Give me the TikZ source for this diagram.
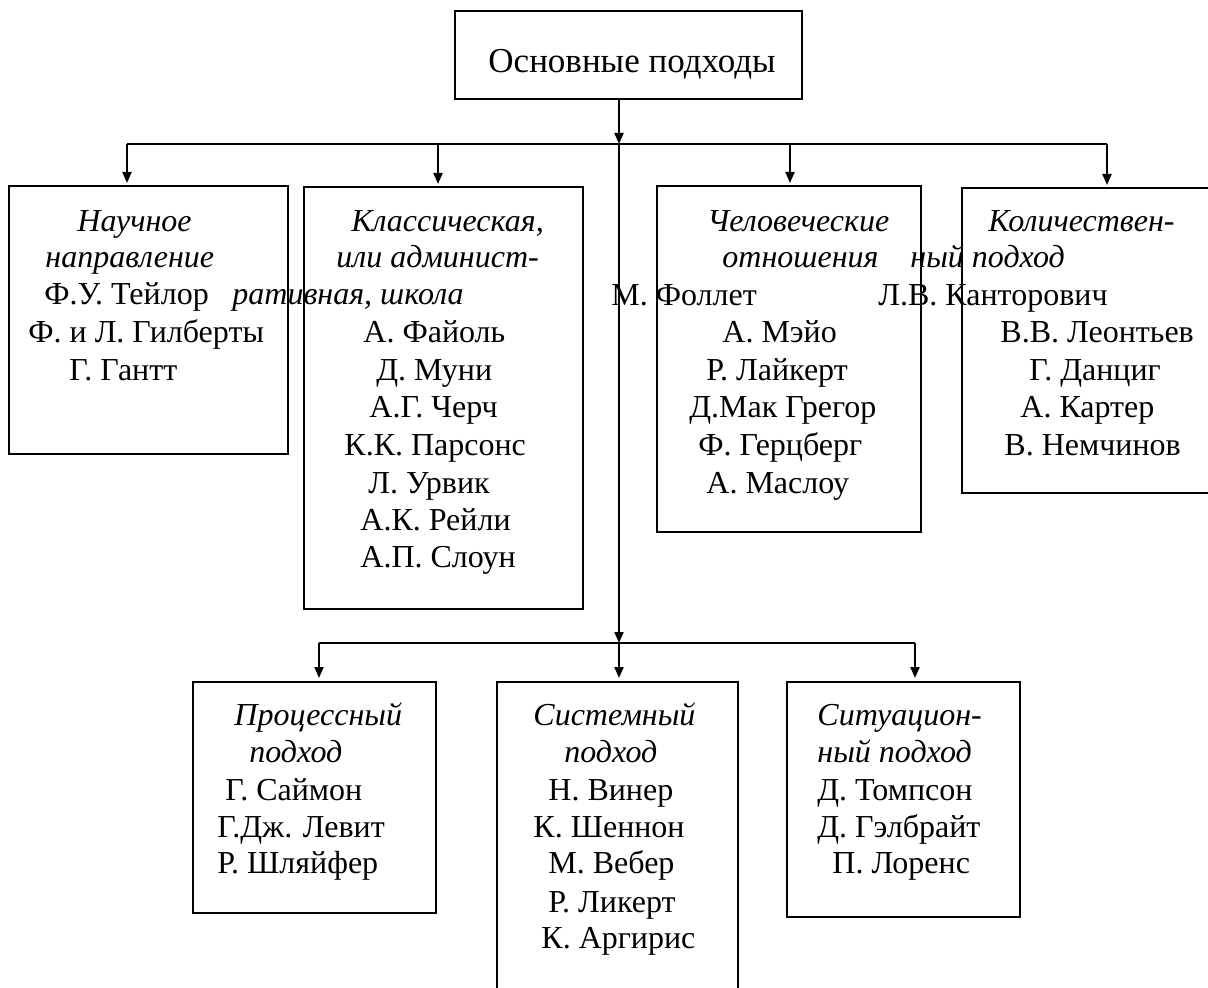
\documentclass[tikz,border=0pt]{standalone}
\usepackage{fontspec}
\setmainfont{Liberation Serif}
\usetikzlibrary{arrows.meta}
\tikzset{
  box/.style={draw, line width=1.3pt, rectangle, inner sep=0pt, outer sep=0pt},
  conn/.style={line width=1pt},
  arr/.style={line width=1pt, -{Triangle[length=5.5pt,width=4.5pt]}},
  txt/.style={anchor=base west, inner sep=0pt, font=\fontsize{16pt}{19pt}\selectfont},
  ital/.style={txt, font=\fontsize{16pt}{19pt}\selectfont\itshape}
}
\begin{document}
\begin{tikzpicture}[x=0.5pt,y=-0.5pt]
\useasboundingbox (0,0) rectangle (1208,988);
\clip (0,0) rectangle (1208,988);
% boxes
\node[box, minimum width=173.5pt, minimum height=44pt] (top) at (628.5,55) {};
\node[box, minimum width=139.5pt, minimum height=134pt] (b1) at (148.5,320) {};
\node[box, minimum width=139.5pt, minimum height=211pt] (b2) at (443.5,398) {};
\node[box, minimum width=132pt, minimum height=173pt] (b4) at (789,359) {};
\node[box, minimum width=126pt, minimum height=152.5pt] (b5) at (1088,340.5) {};
\node[box, minimum width=121.5pt, minimum height=115.5pt] (p) at (314.5,797.5) {};
\node[box, minimum width=120.5pt, minimum height=159pt] (s) at (617.5,841) {};
\node[box, minimum width=116.5pt, minimum height=117.5pt] (c) at (903.5,799.5) {};
% title
\node[anchor=base, inner sep=0pt, font=\fontsize{17.5pt}{20pt}\selectfont] (title) at (632,73) {Основные подходы};
% bus coordinates
\coordinate (h1L) at (127,144);
\coordinate (h1R) at (1107,144);
\coordinate (h1M) at (619,144);
\coordinate (h1b) at (438,144);
\coordinate (h1d) at (790,144);
\coordinate (h2L) at (319,643);
\coordinate (h2R) at (915,643);
\coordinate (h2M) at (619,643);
% connectors
\draw[arr] (top.south -| h1M) -- (h1M);
\draw[conn] (h1L) -- (h1R);
\draw[arr] (h1L) -- ([yshift=1.5pt]h1L |- b1.north);
\draw[arr] (h1b) -- ([yshift=1.5pt]h1b |- b2.north);
\draw[arr] (h1d) -- ([yshift=1.5pt]h1d |- b4.north);
\draw[arr] (h1R) -- ([yshift=1.5pt]h1R |- b5.north);
\draw[arr] (h1M) -- (h2M);
\draw[conn] (h2L) -- (h2R);
\draw[arr] (h2L) -- ([yshift=2pt]h2L |- p.north);
\draw[arr] (h2M) -- ([yshift=2pt]h2M |- s.north);
\draw[arr] (h2R) -- ([yshift=2pt]h2R |- c.north);
% box 1
\node[ital] (t11) at (77,232) {Научное};
\node[ital] (t12) at (45,268) {направление};
\node[txt] (t13) at (44,305) {Ф.У. Тейлор};
\node[txt] (t14) at (28,343) {Ф. и Л. Гилберты};
\node[txt] (t15) at (69,381) {Г. Гантт};
% box 2
\node[ital] (t21) at (351,232) {Классическая,};
\node[ital] (t22) at (336,268) {или админист-};
\node[ital] (t23) at (232,305) {ративная, школа};
\node[txt] (t24) at (363,343) {А. Файоль};
\node[txt] (t25) at (376,381) {Д. Муни};
\node[txt] (t26) at (369,417) {А.Г. Черч};
\node[txt] (t27) at (344,455) {К.К. Парсонс};
\node[txt] (t28) at (368,493) {Л. Урвик};
\node[txt] (t29) at (360,530) {А.К. Рейли};
\node[txt] (t2a) at (360,567) {А.П. Слоун};
% box 4
\node[ital] (t41) at (707,232) {Человеческие};
\node[ital] (t42) at (722,268) {отношения};
\node[txt] (t43) at (611,306) {М. Фоллет};
\node[txt] (t44) at (722,343) {А. Мэйо};
\node[txt] (t45) at (706,381) {Р. Лайкерт};
\node[txt] (t46) at (689,417) {Д.Мак Грегор};
\node[txt] (t47) at (698,455) {Ф. Герцберг};
\node[txt] (t48) at (706,493) {А. Маслоу};
% box 5
\node[ital] (t51) at (988,232) {Количествен-};
\node[ital] (t52) at (910,268) {ный подход};
\node[txt] (t53) at (878,306) {Л.В. Канторович};
\node[txt] (t54) at (1000,343) {В.В. Леонтьев};
\node[txt] (t55) at (1029,381) {Г. Данциг};
\node[txt] (t56) at (1020,417) {А. Картер};
\node[txt] (t57) at (1004,455) {В. Немчинов};
% process
\node[ital] (tp1) at (234,725) {Процессный};
\node[ital] (tp2) at (249,762) {подход};
\node[txt] (tp3) at (225,800) {Г. Саймон};
\node[txt] (tp4) at (217,837) {Г.Дж. Левит};
\node[txt] (tp5) at (217,873) {Р. Шляйфер};
% system
\node[ital] (ts1) at (533,725) {Системный};
\node[ital] (ts2) at (564,762) {подход};
\node[txt] (ts3) at (548,800) {Н. Винер};
\node[txt] (ts4) at (533,837) {К. Шеннон};
\node[txt] (ts5) at (548,873) {М. Вебер};
\node[txt] (ts6) at (548,912) {Р. Ликерт};
\node[txt] (ts7) at (541,948) {К. Аргирис};
% situation
\node[ital] (tc1) at (817,725) {Ситуацион-};
\node[ital] (tc2) at (817,762) {ный подход};
\node[txt] (tc3) at (817,800) {Д. Томпсон};
\node[txt] (tc4) at (817,837) {Д. Гэлбрайт};
\node[txt] (tc5) at (832,873) {П. Лоренс};
\end{tikzpicture}
\end{document}
